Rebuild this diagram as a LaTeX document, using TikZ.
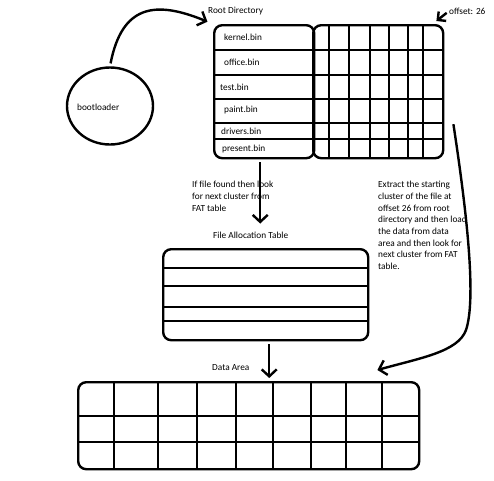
\documentclass[tikz,border=0pt]{standalone}
\usepackage{fontspec}
\setmainfont{Carlito}
\usetikzlibrary{arrows.meta,shapes.geometric}
\begin{document}
\begin{tikzpicture}[x=1pt,y=-1pt,
  ln/.style={line width=2.4pt},
  box/.style={draw,ln,rounded corners=8pt,inner sep=0pt,anchor=north west},
  lbl/.style={font=\fontsize{9.3}{11.7}\selectfont,anchor=west,inner sep=0pt},
  para/.style={font=\fontsize{9.3}{11.7}\selectfont,anchor=north west,inner sep=0pt,align=left},
  arr/.style={ln,-{Straight Barb[length=7pt,width=15pt,line width=2.4pt]}},
  sarr/.style={ln,-{Straight Barb[length=6pt,width=12pt,line width=2.4pt]}}]
\useasboundingbox[fill=white] (0,0) rectangle (494,480);

% Root directory
\node[box,minimum width=100pt,minimum height=133pt] (rootL) at (213,24) {};
\node[box,minimum width=130pt,minimum height=133pt] (rootG) at (312,24) {};
\foreach \y in {50,75,99,123,139} \draw[ln] (213,\y) -- (442,\y);
\foreach \x in {329,349,370,389,408,423} \draw[ln] (\x,24) -- (\x,157);
\node[lbl] (rootlbl) at (208,11) {Root Directory};
\node[lbl] (f1) at (224,37) {kernel.bin};
\node[lbl] (f2) at (224,62) {office.bin};
\node[lbl] (f3) at (220,87) {test.bin};
\node[lbl] (f4) at (224,110) {paint.bin};
\node[lbl] (f5) at (221,131) {drivers.bin};
\node[lbl] (f6) at (222,149) {present.bin};
\node[lbl] (offs) at (449,11) {offset: 26};

% bootloader
\node[draw,ln,ellipse,minimum width=86pt,minimum height=77pt,inner sep=0pt] (boot) at (110,106) {};
\node[lbl] (bootlbl) at (77,107) {bootloader};

% FAT
\node[lbl] (fatlbl) at (213,235) {File Allocation Table};
\node[box,minimum width=205pt,minimum height=91pt] (fat) at (162,248) {};
\foreach \y in {268,286,307,321} \draw[ln] (162,\y) -- (367,\y);

% Data area
\node[lbl] (datalbl) at (212,368) {Data Area};
\node[box,minimum width=341pt,minimum height=87pt] (data) at (77,381) {};
\foreach \y in {416,442} \draw[ln] (77,\y) -- (418,\y);
\foreach \x in {114,158,197,236,273,311,346,382} \draw[ln] (\x,381) -- (\x,468);

% texts
\node[para] (t1) at (192,181) {If file found then look\\for next cluster from\\FAT table};
\node[para] (t2) at (378,181) {Extract the starting\\cluster of the file at\\offset 26 from root\\directory and then load\\the data from data\\area and then look for\\next cluster from FAT\\table.};

% connectors
\draw[arr,shorten <=3pt,shorten >=6pt] (boot.north) .. controls (122,5) and (155,0) .. (rootL.north west);
\draw[sarr,shorten <=3pt] (offs.west) -- ([xshift=-8pt,yshift=3pt]rootG.north east);
\draw[arr,shorten <=3pt,shorten >=8pt] ([xshift=-4pt]rootL.south) -- ([xshift=-4pt]rootL.south |- fatlbl.north);
\draw[arr,shorten <=3pt,shorten >=3pt] ([xshift=3.5pt]fat.south) -- ([xshift=3.5pt]fat.south |- data.north);
\draw[arr] ([xshift=9pt,yshift=-32.5pt]rootG.east) .. controls (468,220) and (476,300) .. (466,330)
  .. controls (458,352) and (420,358) .. ([xshift=-43pt,yshift=11pt]data.north east);
\end{tikzpicture}
\end{document}
